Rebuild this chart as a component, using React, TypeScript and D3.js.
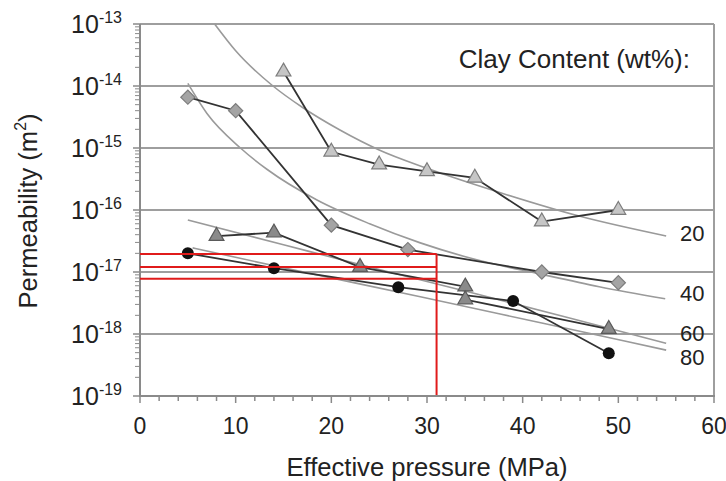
import * as d3 from 'd3'

// clay content series (wt%)
const CLAY = ['20', '40', '60', '80']

// measured points
const P20 = [15, 20, 25, 30, 35, 42, 50]
const K20 = [1.7e-14, 8.7e-16, 5.4e-16, 4.2e-16, 3.3e-16, 6.5e-17, 1.0e-16]
const P40 = [5, 10, 20, 28, 42, 50]
const K40 = [6.6e-15, 4.0e-15, 5.7e-17, 2.3e-17, 1.0e-17, 6.7e-18]
const P60 = [8, 14, 23, 34, 34, 49]
const K60 = [3.8e-17, 4.3e-17, 1.2e-17, 5.8e-18, 3.6e-18, 1.2e-18]
const P80 = [5, 14, 27, 39, 49]
const K80 = [2.0e-17, 1.15e-17, 5.7e-18, 3.4e-18, 4.9e-19]

// fitted trend curves
const FIT20_P = [7.8, 10, 13.9, 17, 20.9, 25, 30, 38.4, 46, 55]
const FIT20_K = [1e-13, 3.7e-14, 1e-14, 4.5e-15, 1.95e-15, 9.3e-16, 4.7e-16, 1.75e-16, 7.9e-17, 3.8e-17]
const FIT40_P = [5, 7, 10.5, 13.3, 18.5, 24, 29.3, 35, 41.8, 48, 54.9]
const FIT40_K = [1.1e-14, 3.6e-15, 1e-15, 4.5e-16, 1.45e-16, 6e-17, 2.95e-17, 1.6e-17, 9.3e-18, 5.8e-18, 3.7e-18]
const FIT60_P = [5, 15, 25, 35, 45, 55]
const FIT60_K = [6.9e-17, 2.75e-17, 1.1e-17, 4.5e-18, 1.8e-18, 7.1e-19]
const FIT80_P = [5.5, 15, 29.3, 42, 55]
const FIT80_K = [2.45e-17, 1.17e-17, 4e-18, 1.5e-18, 5.5e-19]

// where the series labels sit (value level at right end)
const LABEL_K = [4.3e-17, 4.6e-18, 1.04e-18, 4.3e-19]

// red read-off lines
const RED_P = 31
const RED_K = [1.95e-17, 1.2e-17, 7.8e-18]

// axes
const X_TICKS = [0, 10, 20, 30, 40, 50, 60]
const Y_EXPONENTS = [-13, -14, -15, -16, -17, -18, -19]

const FONT = '"Liberation Sans", Arial, sans-serif'
const TXT = '#222'

export default function App() {
  const W = 726
  const H = 481
  const x = d3.scaleLinear().domain([0, 60]).range([140, 714])
  const y = d3.scaleLog().domain([1e-19, 1e-13]).range([396, 24])

  const line = d3
    .line<[number, number]>()
    .x((d) => x(d[0]))
    .y((d) => y(d[1]))
  const curve = d3
    .line<[number, number]>()
    .x((d) => x(d[0]))
    .y((d) => y(d[1]))
    .curve(d3.curveMonotoneX)

  const zip = (a: number[], b: number[]) => a.map((v, i) => [v, b[i]] as [number, number])

  const fits = [
    zip(FIT20_P, FIT20_K),
    zip(FIT40_P, FIT40_K),
    zip(FIT60_P, FIT60_K),
    zip(FIT80_P, FIT80_K),
  ]
  const series = [zip(P20, K20), zip(P40, K40), zip(P60, K60), zip(P80, K80)]

  const tri = d3.symbol(d3.symbolTriangle, 95)()
  const dia = d3.symbol(d3.symbolSquare, 100)()
  const [x0, x1] = x.range()
  const [yb, yt] = y.range()

  const minorY = y.ticks().filter((t) => Math.abs(Math.log10(t) - Math.round(Math.log10(t))) > 1e-6)
  const minorX = d3.range(0, 61, 2)

  return (
    <svg
      width={W}
      height={H}
      style={{ position: 'absolute', left: 0, top: 0, background: '#fff' }}
      fontFamily={FONT}
    >
      {/* gridlines */}
      {Y_EXPONENTS.map((e) => (
        <line key={e} x1={x0} x2={x1} y1={y(Math.pow(10, e))} y2={y(Math.pow(10, e))} stroke="#9e9e9e" strokeWidth={2} />
      ))}
      {/* frame */}
      <line x1={x1} x2={x1} y1={yt} y2={yb} stroke="#9e9e9e" strokeWidth={2} />
      <line x1={x0} x2={x0} y1={yt} y2={yb + 1} stroke="#8a8a8a" strokeWidth={2} />

      {/* y ticks */}
      {minorY.map((t, i) => (
        <line key={'my' + i} x1={x0 - 5} x2={x0} y1={y(t)} y2={y(t)} stroke="#8a8a8a" strokeWidth={1} />
      ))}
      {Y_EXPONENTS.map((e) => (
        <line key={'ty' + e} x1={x0 - 7} x2={x0} y1={y(Math.pow(10, e))} y2={y(Math.pow(10, e))} stroke="#8a8a8a" strokeWidth={1.5} />
      ))}
      {/* x ticks */}
      {minorX.map((t) => (
        <line key={'tx' + t} x1={x(t)} x2={x(t)} y1={yb} y2={yb + (t % 10 === 0 ? 7 : 5)} stroke="#8a8a8a" strokeWidth={1.5} />
      ))}

      {/* fit curves */}
      {fits.map((f, i) => (
        <path key={'f' + i} d={curve(f) || ''} fill="none" stroke="#9a9a9a" strokeWidth={1.6} />
      ))}

      {/* connecting lines */}
      {series.map((s, i) => (
        <path key={'s' + i} d={line(s) || ''} fill="none" stroke="#333" strokeWidth={1.8} />
      ))}

      {/* markers */}
      {series[0].map((d, i) => (
        <path key={'m20' + i} d={tri || ''} transform={`translate(${x(d[0])},${y(d[1])})`} fill="#c6c6c6" stroke="#7c7c7c" strokeWidth={1.2} />
      ))}
      {series[1].map((d, i) => (
        <path key={'m40' + i} d={dia || ''} transform={`translate(${x(d[0])},${y(d[1])}) rotate(45)`} fill="#a4a4a4" stroke="#7c7c7c" strokeWidth={1.2} />
      ))}
      {series[2].map((d, i) => (
        <path key={'m60' + i} d={tri || ''} transform={`translate(${x(d[0])},${y(d[1])})`} fill="#8a8a8a" stroke="#5a5a5a" strokeWidth={1.2} />
      ))}
      {series[3].map((d, i) => (
        <circle key={'m80' + i} cx={x(d[0])} cy={y(d[1])} r={6} fill="#111" />
      ))}

      {/* red read-off */}
      {RED_K.map((k, i) => (
        <line key={'r' + i} x1={x0} x2={x(RED_P)} y1={y(k)} y2={y(k)} stroke="#e01b1b" strokeWidth={2} />
      ))}
      <line x1={x(RED_P)} x2={x(RED_P)} y1={y(RED_K[0])} y2={yb} stroke="#e01b1b" strokeWidth={2} />

      {/* bottom axis line */}
      <line x1={x0 - 1} x2={x1 + 1} y1={yb} y2={yb} stroke="#8a8a8a" strokeWidth={2} />

      {/* y tick labels */}
      {Y_EXPONENTS.map((e) => (
        <text key={'yl' + e} x={122} y={y(Math.pow(10, e)) + 9} textAnchor="end" fontSize={25} fill={TXT}>
          10
          <tspan fontSize={16} dy={-10}>
            {String(e)}
          </tspan>
        </text>
      ))}
      {/* x tick labels */}
      {X_TICKS.map((t) => (
        <text key={'xl' + t} x={x(t)} y={434} textAnchor="middle" fontSize={23} fill={TXT}>
          {t}
        </text>
      ))}

      {/* axis titles */}
      <text x={427} y={476} textAnchor="middle" fontSize={25.6} fill={TXT}>
        Effective pressure (MPa)
      </text>
      <text transform="translate(37,211) rotate(-90)" textAnchor="middle" fontSize={25.6} fill={TXT}>
        Permeability (m
        <tspan fontSize={16} dy={-11}>
          2
        </tspan>
        <tspan dy={11}>)</tspan>
      </text>

      {/* series labels */}
      <text x={690} y={68} textAnchor="end" fontSize={26} fill={TXT}>
        Clay Content (wt%):
      </text>
      {CLAY.map((c, i) => (
        <text key={'c' + c} x={680} y={y(LABEL_K[i]) + 8} fontSize={22} fill={TXT}>
          {c}
        </text>
      ))}
    </svg>
  )
}
